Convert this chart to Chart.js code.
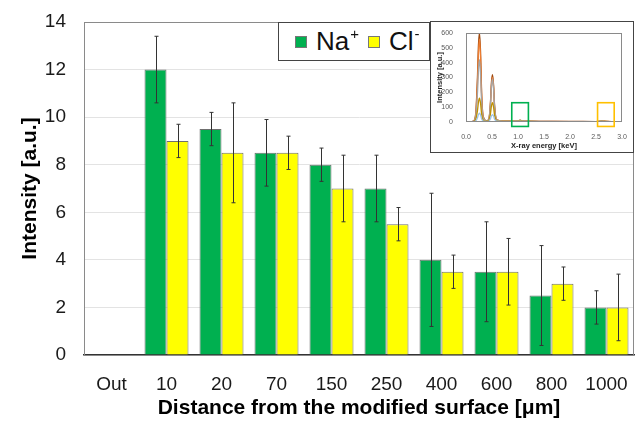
<!DOCTYPE html>
<html>
<head>
<meta charset="utf-8">
<script src="https://cdn.jsdelivr.net/npm/chart.js@4.4.0/dist/chart.umd.min.js"></script>
<style>
  html, body { margin: 0; padding: 0; background: #fff; }
  #wrap { position: relative; width: 638px; height: 421px; font-family: "Liberation Sans", Arial, sans-serif; }
  #legend {
    position: absolute; left: 278px; top: 22px; width: 152px; height: 39px;
    box-sizing: border-box; border: 1.5px solid #444; background: #fff;
    display: flex; align-items: center; padding-left: 16px;
    font-size: 26px; color: #111;
  }
  #legend .sw { width: 12px; height: 12px; border: 1px solid #777; box-sizing: border-box; display: inline-block; margin-right: 9px; }
  #legend .item { display: flex; align-items: center; margin-right: 9px; }
  #legend sup { font-size: 15px; position: relative; top: -8px; margin-left: 1px; }
  #inset {
    position: absolute; left: 430px; top: 21px; width: 204px; height: 132px;
    box-sizing: border-box; border: 1px solid #444; background: #fff;
  }
</style>
</head>
<body>
<div id="wrap">
  <canvas id="mainChart" width="638" height="421"></canvas>
  <div id="legend">
    <span class="item"><span class="sw" style="background:#00B050"></span>Na<sup>+</sup></span>
    <span class="item"><span class="sw" style="background:#FFFF00"></span>Cl<sup>-</sup></span>
  </div>
  <div id="inset"><canvas id="insetChart" width="202" height="130"></canvas></div>
</div>
<script>
// main chart data
const categories = ['Out', '10', '20', '70', '150', '250', '400', '600', '800', '1000'];
const naValues = [0, 12, 9.5, 8.5, 8, 7, 4, 3.5, 2.5, 2];
const naErrors = [0, 1.4, 0.7, 1.4, 0.7, 1.4, 2.8, 2.1, 2.1, 0.7];
const clValues = [0, 9, 8.5, 8.5, 7, 5.5, 3.5, 3.5, 3, 2];
const clErrors = [0, 0.7, 2.1, 0.7, 1.4, 0.7, 0.7, 1.4, 0.7, 1.4];

// inset spectrum data (keV / a.u.)
const energy = [0.00, 0.10, 0.15, 0.19, 0.22, 0.24, 0.26, 0.28, 0.30, 0.33, 0.40, 0.44, 0.47, 0.49, 0.51, 0.53, 0.55, 0.59, 0.70, 0.90, 1.00, 1.04, 1.08, 1.20, 1.50, 2.00, 2.50, 2.60, 2.62, 2.65, 2.80, 3.00];
const spectrumA = [0, 2, 8, 70, 300, 520, 600, 470, 200, 40, 8, 20, 130, 270, 320, 250, 110, 15, 6, 5, 8, 12, 8, 5, 4, 4, 3, 6, 8, 5, 3, 2];
const spectrumB = [0, 2, 7, 60, 260, 470, 560, 430, 180, 35, 7, 18, 120, 250, 300, 235, 100, 14, 6, 5, 8, 11, 8, 5, 4, 3, 3, 5, 7, 5, 3, 2];
const spectrumC = [0, 2, 6, 45, 190, 350, 420, 320, 140, 28, 7, 17, 115, 240, 290, 225, 95, 13, 5, 5, 7, 10, 7, 5, 4, 3, 3, 5, 6, 4, 3, 2];
const spectrumD = [0, 1, 3, 20, 75, 135, 160, 125, 55, 12, 5, 9, 55, 110, 130, 100, 45, 8, 4, 4, 6, 9, 6, 4, 3, 3, 3, 4, 6, 4, 3, 2];
const spectrumE = [0, 1, 2, 8, 28, 50, 60, 48, 22, 6, 3, 5, 22, 42, 50, 40, 18, 5, 3, 3, 4, 6, 4, 3, 3, 2, 2, 3, 4, 3, 2, 1];
const windowsKeV = [[0.88, 1.2], [2.53, 2.85]];
const windowRange = [-30, 130];

const errorBars = {
    id: 'errorBars',
    afterDatasetsDraw(chart) {
        const ctx = chart.ctx;
        const yScale = chart.scales.y;
        const errs = [naErrors, clErrors];
        ctx.save();
        ctx.strokeStyle = '#333';
        ctx.lineWidth = 1;
        chart.data.datasets.forEach((ds, di) => {
            const meta = chart.getDatasetMeta(di);
            meta.data.forEach((bar, i) => {
                const e = errs[di][i];
                if (!e) return;
                const v = ds.data[i];
                const top = yScale.getPixelForValue(v + e);
                const bot = yScale.getPixelForValue(v - e);
                const x = Math.round(bar.x) + 0.5;
                ctx.beginPath();
                ctx.moveTo(x, top); ctx.lineTo(x, bot);
                ctx.moveTo(x - 2, top); ctx.lineTo(x + 2, top);
                ctx.moveTo(x - 2, bot); ctx.lineTo(x + 2, bot);
                ctx.stroke();
            });
        });
        ctx.restore();
    }
};

const frame = {
    id: 'frame',
    beforeDatasetsDraw(chart) {
        const a = chart.chartArea;
        const ctx = chart.ctx;
        ctx.save();
        ctx.strokeStyle = '#8a8a8a';
        ctx.lineWidth = 1;
        ctx.beginPath();
        ctx.moveTo(a.left, a.top + 0.5); ctx.lineTo(a.right, a.top + 0.5);
        ctx.moveTo(a.right - 0.5, a.top); ctx.lineTo(a.right - 0.5, a.bottom);
        ctx.stroke();
        ctx.restore();
    }
};

new Chart(document.getElementById('mainChart').getContext('2d'), {
    type: 'bar',
    data: {
        labels: categories,
        datasets: [{
            label: 'Na+',
            data: naValues,
            backgroundColor: '#00B050',
            borderColor: '#6f6f6f',
            borderWidth: 1
        }, {
            label: 'Cl-',
            data: clValues,
            backgroundColor: '#FFFF00',
            borderColor: '#6f6f6f',
            borderWidth: 1
        }]
    },
    options: {
        responsive: false,
        animation: false,
        layout: { padding: { top: 22, right: 4, left: 0, bottom: 0 } },
        datasets: { bar: { categoryPercentage: 0.8, barPercentage: 1.0 } },
        plugins: { legend: { display: false }, tooltip: { enabled: false } },
        scales: {
            x: {
                grid: { display: false },
                border: { color: '#333', width: 1.5 },
                ticks: { color: '#1a1a1a', font: { family: 'Liberation Sans', size: 19 }, padding: 10, maxRotation: 0 },
                title: {
                    display: true,
                    text: 'Distance from the modified surface [μm]',
                    color: '#000',
                    font: { family: 'Liberation Sans', size: 21, weight: 'bold' },
                    padding: { top: 0, bottom: 0 }
                },
                afterFit(scale) { scale.height = 66; }
            },
            y: {
                min: 0,
                max: 14,
                ticks: { stepSize: 2, color: '#1a1a1a', font: { family: 'Liberation Sans', size: 19 }, padding: 3 },
                grid: { color: '#e3e3e3', drawTicks: true, tickLength: 15, tickColor: 'rgba(0,0,0,0)' },
                border: { color: '#8a8a8a' },
                title: {
                    display: true,
                    text: 'Intensity [a.u.]',
                    color: '#000',
                    font: { family: 'Liberation Sans', size: 21, weight: 'bold' },
                    padding: { top: 18, bottom: 0 }
                },
                afterFit(scale) { scale.width = 84; }
            }
        }
    },
    plugins: [frame, errorBars]
});

// inset spectrum
const spectra = [
    { data: spectrumE, color: '#9DC3E6' },
    { data: spectrumD, color: '#BF9000' },
    { data: spectrumC, color: '#A5A5A5' },
    { data: spectrumB, color: '#ED7D31' },
    { data: spectrumA, color: '#9E480E' }
];

const insetBoxes = {
    id: 'insetBoxes',
    afterDraw(chart) {
        const ctx = chart.ctx;
        const a = chart.chartArea;
        const xs = chart.scales.x, ys = chart.scales.y;
        ctx.save();
        ctx.strokeStyle = '#8a8a8a';
        ctx.lineWidth = 1;
        ctx.strokeRect(a.left + 0.5, a.top + 0.5, a.right - a.left - 1, a.bottom - a.top - 1);
        const colors = ['#00B050', '#FFC000'];
        windowsKeV.forEach((w, i) => {
            const x1 = xs.getPixelForValue(w[0]);
            const x2 = xs.getPixelForValue(w[1]);
            const y1 = ys.getPixelForValue(windowRange[1]);
            const y2 = ys.getPixelForValue(windowRange[0]);
            ctx.strokeStyle = colors[i];
            ctx.lineWidth = 1.6;
            ctx.strokeRect(x1, y1, x2 - x1, y2 - y1);
        });
        ctx.restore();
    }
};

new Chart(document.getElementById('insetChart').getContext('2d'), {
    type: 'line',
    data: {
        datasets: spectra.map(s => ({
            data: energy.map((e, i) => ({ x: e, y: s.data[i] })),
            borderColor: s.color,
            borderWidth: 1.3,
            pointRadius: 0,
            cubicInterpolationMode: 'monotone'
        }))
    },
    options: {
        responsive: false,
        animation: false,
        layout: { padding: { top: 11, right: 11, left: 0, bottom: 0 } },
        plugins: { legend: { display: false }, tooltip: { enabled: false } },
        scales: {
            x: {
                type: 'linear',
                min: 0,
                max: 3,
                grid: { display: false },
                border: { display: false },
                ticks: { stepSize: 0.5, color: '#595959', font: { family: 'Liberation Sans', size: 7 }, padding: 3, callback: v => v.toFixed(1) },
                title: {
                    display: true,
                    text: 'X-ray energy [keV]',
                    color: '#222',
                    font: { family: 'Liberation Sans', size: 7.5, weight: 'bold' },
                    padding: { top: 0, bottom: 2 }
                },
                afterFit(scale) { scale.height = 30; }
            },
            y: {
                min: 0,
                max: 600,
                grid: { display: false },
                border: { display: false },
                ticks: { stepSize: 100, color: '#595959', font: { family: 'Liberation Sans', size: 7 }, padding: 5 },
                title: {
                    display: true,
                    text: 'Intensity [a.u.]',
                    color: '#222',
                    font: { family: 'Liberation Sans', size: 7.5, weight: 'bold' },
                    padding: { top: 4, bottom: 0 }
                },
                afterFit(scale) { scale.width = 35; }
            }
        }
    },
    plugins: [insetBoxes]
});
</script>
</body>
</html>
